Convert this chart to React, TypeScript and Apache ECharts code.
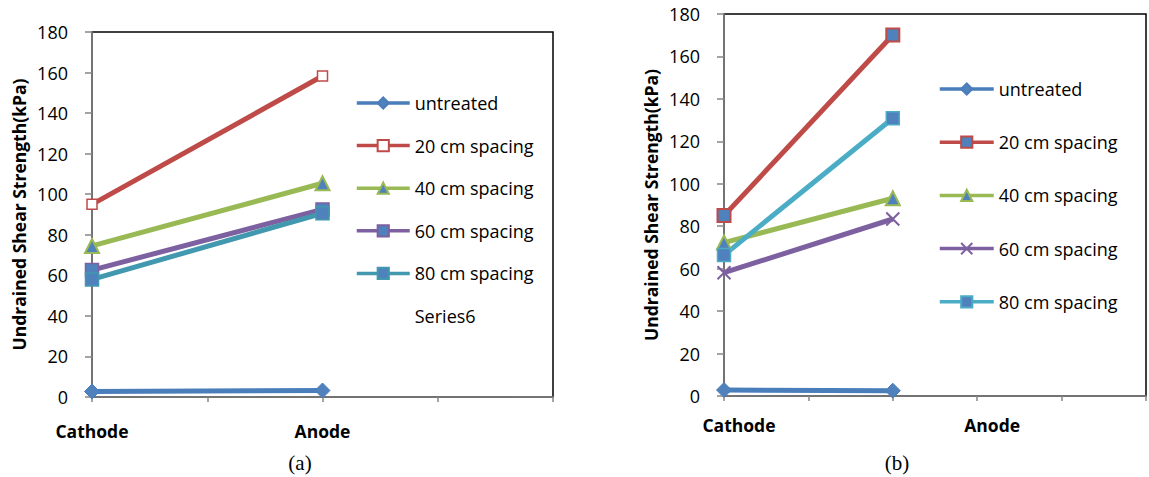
import React, { useEffect, useRef } from "react";
import * as echarts from "echarts";

// ---------- data ----------
const categoriesA = ["Cathode", "", "Anode", "", ""];
const categoriesB = ["Cathode", "", "Anode", "", "", ""];
const xTickLabelsB = ["Cathode", "", "", "Anode", "", ""];
const seriesNames = ["untreated", "20 cm spacing", "40 cm spacing", "60 cm spacing", "80 cm spacing"];
const extraSeriesA = "Series6";

// values at [Cathode, Anode]
const untreatedA = [2.7, 3.2];
const s20A = [95.0, 158.3];
const s40A = [74.5, 105.4];
const s60A = [62.6, 92.5];
const s80A = [58.0, 90.6];

const untreatedB = [2.8, 2.5];
const s20B = [85.0, 170.1];
const s40B = [72.3, 93.2];
const s60B = [58.1, 83.4];
const s80B = [66.4, 130.9];

const yMin = 0;
const yMax = 180;
const yInterval = 20;
const yTitle = "Undrained Shear Strength(kPa)";
const captions = ["(a)", "(b)"];

// ---------- styles ----------
const BLUE = "#4A7EBB";
const BLUE_FILL = "#4F81BD";
const RED = "#BE4B48";
const GREEN = "#98B954";
const PURPLE = "#7D60A0";
const TEAL_A = "#4198AF";
const TEAL_B = "#4BACC6";
const AXIS_GRAY = "#868686";
const FONT = "'Open Sans', 'Noto Sans', sans-serif";

const X_PATH = "path://M0,0L10,10M10,0L0,10";

// place [Cathode, Anode] values onto the category slots
const place = (vals: number[], cats: string[]) =>
  cats.map((c) => (c === "Cathode" ? vals[0] : c === "Anode" ? vals[1] : null));

function mkSeries(
  name: string,
  data: (number | null)[],
  idx: number,
  lineColor: string,
  symbol: string,
  symbolSize: number,
  fill: string,
  border: string,
  borderWidth: number
) {
  return {
    name,
    type: "line",
    xAxisIndex: idx,
    yAxisIndex: idx,
    data,
    symbol,
    symbolSize,
    connectNulls: true,
    clip: false,
    lineStyle: { color: lineColor, width: 5 },
    itemStyle: { color: fill, borderColor: border, borderWidth },
    emphasis: { disabled: true },
  };
}

export default function App() {
  const ref = useRef<HTMLDivElement>(null);

  useEffect(() => {
    if (!ref.current) return;
    const chart = echarts.init(ref.current, undefined, { renderer: "svg" });

    const yAxisCommon = {
      type: "value",
      min: yMin,
      max: yMax,
      interval: yInterval,
      name: yTitle,
      nameLocation: "middle",
      nameRotate: 90,
      nameTextStyle: { fontFamily: FONT, fontWeight: "bold", fontSize: 17.5, color: "#000" },
      axisLine: { show: true, lineStyle: { color: AXIS_GRAY, width: 1.5 } },
      axisTick: { show: true, inside: false, length: 7, lineStyle: { color: AXIS_GRAY, width: 1.5 } },
      axisLabel: { fontFamily: FONT, fontSize: 18, color: "#000", margin: 24 },
      splitLine: { show: false },
    };

    const xAxisCommon = {
      type: "category",
      boundaryGap: false,
      axisLine: { show: true, lineStyle: { color: AXIS_GRAY, width: 1.5 } },
      axisTick: { show: true, inside: false, length: 5, interval: 0, lineStyle: { color: AXIS_GRAY, width: 1.5 } },
      splitLine: { show: false },
    };

    const legendText = { fontFamily: FONT, fontSize: 18, color: "#000", lineHeight: 20 };

    const option = {
      animation: false,
      backgroundColor: "#fff",
      grid: [
        { left: 92, top: 32, width: 461, height: 365, show: true, borderColor: "#000", borderWidth: 1.5, backgroundColor: "transparent" },
        { left: 724, top: 14, width: 422, height: 382, show: true, borderColor: "#000", borderWidth: 1.5, backgroundColor: "transparent" },
      ],
      xAxis: [
        {
          ...xAxisCommon,
          gridIndex: 0,
          data: categoriesA,
          axisLabel: { interval: 0, fontFamily: FONT, fontWeight: "bold", fontSize: 17.5, color: "#000", margin: 25 },
        },
        {
          ...xAxisCommon,
          gridIndex: 1,
          data: categoriesB,
          axisLabel: {
            interval: 0,
            fontFamily: FONT,
            fontWeight: "bold",
            fontSize: 17.5,
            color: "#000",
            margin: 20,
            padding: [0, 0, 0, 30],
            formatter: (_v: string, i: number) => xTickLabelsB[i] || "",
          },
        },
      ],
      yAxis: [
        { ...yAxisCommon, gridIndex: 0, nameGap: 64 },
        { ...yAxisCommon, gridIndex: 1, nameGap: 64 },
      ],
      legend: [
        {
          orient: "vertical",
          left: 355,
          top: 93,
          padding: 0,
          itemWidth: 53,
          itemHeight: 14,
          itemGap: 22.6,
          selectedMode: false,
          data: [...seriesNames, extraSeriesA],
          textStyle: legendText,
          lineStyle: { width: 3.5 },
        },
        {
          orient: "vertical",
          left: 938,
          top: 79,
          padding: 0,
          itemWidth: 54,
          itemHeight: 14,
          itemGap: 33.2,
          selectedMode: false,
          data: seriesNames.map((s) => s + " "),
          formatter: (s: string) => s.trim(),
          textStyle: legendText,
          lineStyle: { width: 3.5 },
        },
      ],
      series: [
        mkSeries(seriesNames[0], place(untreatedA, categoriesA), 0, BLUE, "diamond", 15, BLUE_FILL, BLUE, 1),
        mkSeries(seriesNames[1], place(s20A, categoriesA), 0, RED, "rect", 10, "#fff", RED, 1.5),
        mkSeries(seriesNames[2], place(s40A, categoriesA), 0, GREEN, "triangle", 14, BLUE_FILL, GREEN, 2),
        mkSeries(seriesNames[3], place(s60A, categoriesA), 0, PURPLE, "rect", 13, BLUE_FILL, PURPLE, 1.5),
        mkSeries(seriesNames[4], place(s80A, categoriesA), 0, TEAL_A, "rect", 13, BLUE_FILL, TEAL_A, 1.5),
        {
          name: extraSeriesA,
          type: "line",
          xAxisIndex: 0,
          yAxisIndex: 0,
          data: [],
          symbol: "none",
          lineStyle: { color: "rgba(0,0,0,0)", width: 0 },
          itemStyle: { color: "rgba(0,0,0,0)" },
        },
        mkSeries(seriesNames[0] + " ", place(untreatedB, categoriesB), 1, BLUE, "diamond", 15, BLUE_FILL, BLUE, 1),
        mkSeries(seriesNames[1] + " ", place(s20B, categoriesB), 1, RED, "rect", 13, BLUE_FILL, RED, 2),
        mkSeries(seriesNames[2] + " ", place(s40B, categoriesB), 1, GREEN, "triangle", 14, BLUE_FILL, GREEN, 2),
        mkSeries(seriesNames[3] + " ", place(s60B, categoriesB), 1, PURPLE, X_PATH, 13, "rgba(0,0,0,0)", PURPLE, 2),
        mkSeries(seriesNames[4] + " ", place(s80B, categoriesB), 1, TEAL_B, "rect", 13, BLUE_FILL, TEAL_B, 1.5),
      ],
      graphic: [
        {
          type: "text",
          x: 300,
          y: 463,
          style: { text: captions[0], fontFamily: "'Liberation Serif', serif", fontSize: 21, fill: "#000", textAlign: "center", textVerticalAlign: "middle" },
        },
        {
          type: "text",
          x: 897,
          y: 463,
          style: { text: captions[1], fontFamily: "'Liberation Serif', serif", fontSize: 21, fill: "#000", textAlign: "center", textVerticalAlign: "middle" },
        },
      ],
    };

    chart.setOption(option as any);
    return () => chart.dispose();
  }, []);

  return (
    <div
      ref={ref}
      style={{ position: "fixed", left: 0, top: 0, width: 1149, height: 477, background: "#fff" }}
    />
  );
}
